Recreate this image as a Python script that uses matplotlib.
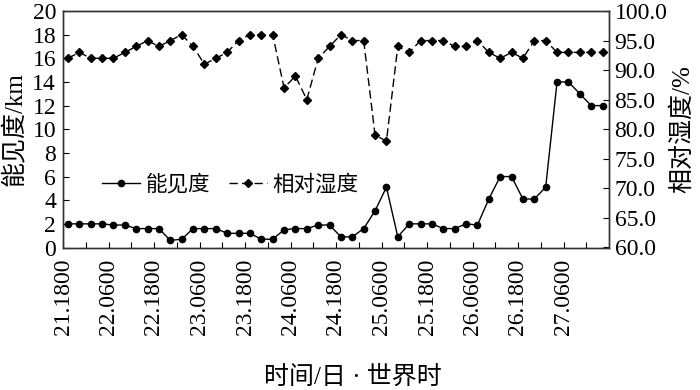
import matplotlib
matplotlib.use("Agg")
import matplotlib.pyplot as plt
import numpy as np

plt.rcParams['font.family'] = ['Liberation Serif', 'Noto Sans CJK SC']

# 3-hourly observations starting 21 day 18 UTC
visibility = [2, 2, 2, 2, 1.9, 1.9, 1.6, 1.6, 1.6, 0.6, 0.7, 1.6, 1.6, 1.6, 1.2, 1.2,
              1.2, 0.7, 0.7, 1.5, 1.6, 1.6, 1.9, 1.9, 0.9, 0.9, 1.6, 3.1, 5.1, 0.9,
              2, 2, 2, 1.6, 1.6, 2, 1.9, 4.1, 6, 6, 4.1, 4.1, 5.1, 14, 14, 13, 12, 12]
humidity = [92, 93, 92, 92, 92, 93, 94, 95, 94, 95, 96, 94, 91, 92, 93, 95, 96, 96,
            96, 87, 89, 85, 92, 94, 96, 95, 95, 79, 78, 94, 93, 95, 95, 95, 94, 94,
            95, 93, 92, 93, 92, 95, 95, 93, 93, 93, 93, 93]
tick_labels = ["21.1800", "22.0600", "22.1800", "23.0600", "23.1800", "24.0600",
               "24.1800", "25.0600", "25.1800", "26.0600", "26.1800", "27.0600"]
left_ticks = list(range(0, 21, 2))
right_ticks = [60, 65, 70, 75, 80, 85, 90, 95, 100]

step_h = 3
offset_h = 1.3
x = offset_h + step_h * np.arange(len(visibility))

fig = plt.figure(figsize=(7, 3.9), dpi=100)
ax = fig.add_axes([63 / 700, 1 - 247.5 / 390, (609 - 63) / 700, (247.5 - 11) / 390])
ax2 = ax.twinx()

l1, = ax.plot(x, visibility, '-o', color='black', lw=1.0, ms=4.5, label='能见度')
l2, = ax2.plot(x, humidity, ls=(0, (6, 3)), marker='D', color='black', lw=1.0,
               ms=4, label='相对湿度')

ax.set_xlim(0, 144)
ax.set_ylim(0, 20)
ax2.set_ylim(60, 100)

TF = 17
ax.set_xticks(np.arange(0, 144, 12))
ax.set_xticklabels(tick_labels, rotation=90, fontsize=TF)
ax.set_xticks(np.arange(6, 144, 12), minor=True)
ax.set_yticks(left_ticks)
ax.set_yticklabels([str(v) for v in left_ticks], fontsize=TF)
ax2.set_yticks(right_ticks)
ax2.set_yticklabels([f"{v:.1f}" for v in right_ticks], fontsize=TF)

ax.tick_params(axis='x', which='both', direction='in', length=4, pad=8, width=0.8)
ax.tick_params(axis='y', direction='in', length=4, pad=5, width=0.8)
ax2.tick_params(axis='y', direction='in', length=4, pad=4, width=0.8)

for a in (ax, ax2):
    for s in a.spines.values():
        s.set_color('#333333')
        s.set_linewidth(1.0)

ax.set_ylabel('能见度/km', fontsize=18, labelpad=4)
ax2.set_ylabel('相对湿度/%', fontsize=18, labelpad=2)
fig.text(353 / 700, 1 - 377 / 390, '时间/日 · 世界时', fontsize=18, ha='center', va='center')

ax2.legend(handles=[l1, l2], loc='center left', bbox_to_anchor=(0.072, 0.262),
           ncol=2, frameon=False, fontsize=15.5, handlelength=1.75, handletextpad=0.25,
           columnspacing=0.9, borderpad=0, borderaxespad=0)

fig.savefig('out.png', dpi=100)
